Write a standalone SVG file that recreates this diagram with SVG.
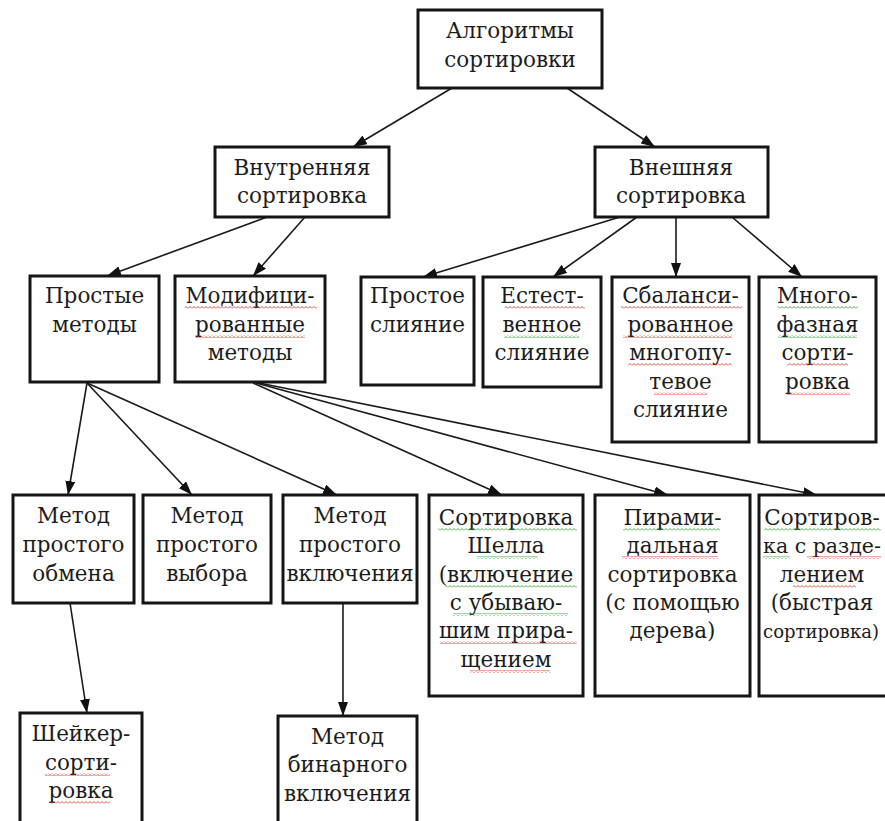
<svg xmlns="http://www.w3.org/2000/svg" width="885" height="821" viewBox="0 0 885 821">
  <style>
    .box { fill: #ffffff; stroke: #151515; stroke-width: 3; }
    .lbl { font-family: "DejaVu Serif", "Liberation Serif", serif; font-size: 21.5px; fill: #1c1c1c; text-anchor: middle; }
    .edge { stroke: #1a1a1a; stroke-width: 1.6; fill: none; marker-end: url(#arrow); }
    .sq-red { fill: url(#waveRed); }
    .sq-green { fill: url(#waveGreen); }
  </style>
  <defs>
    <marker id="arrow" viewBox="0 0 14 10" refX="14" refY="5" markerWidth="14" markerHeight="10" markerUnits="userSpaceOnUse" orient="auto">
      <path d="M0,0 L14,5 L0,10 Z" fill="#111111"/>
    </marker>
    <pattern id="waveRed" width="4" height="3" patternUnits="userSpaceOnUse">
      <path d="M0,2.5 L2,0.5 L4,2.5" stroke="#e0392f" stroke-width="0.9" fill="none"/>
    </pattern>
    <pattern id="waveGreen" width="4" height="3" patternUnits="userSpaceOnUse">
      <path d="M0,2.5 L2,0.5 L4,2.5" stroke="#3aa53a" stroke-width="0.9" fill="none"/>
    </pattern>
  </defs>

  <rect width="885" height="821" fill="#ffffff"/>

  <!-- connectors -->
  <g id="connectors">
    <line class="edge" x1="452" y1="88" x2="353" y2="147"/>
    <line class="edge" x1="567" y1="88" x2="655" y2="147"/>
    <line class="edge" x1="267" y1="217" x2="107" y2="276"/>
    <line class="edge" x1="305" y1="217" x2="253" y2="276"/>
    <line class="edge" x1="620" y1="217" x2="423" y2="277"/>
    <line class="edge" x1="637" y1="217" x2="553" y2="277"/>
    <line class="edge" x1="676" y1="217" x2="676" y2="277"/>
    <line class="edge" x1="732" y1="217" x2="802" y2="277"/>
    <line class="edge" x1="87" y1="383" x2="68" y2="495"/>
    <line class="edge" x1="87" y1="383" x2="192" y2="495"/>
    <line class="edge" x1="87" y1="383" x2="337" y2="495"/>
    <line class="edge" x1="253" y1="383" x2="502" y2="495"/>
    <line class="edge" x1="256" y1="383" x2="668" y2="495"/>
    <line class="edge" x1="259" y1="383" x2="817" y2="495"/>
    <line class="edge" x1="70" y1="603" x2="87" y2="713"/>
    <line class="edge" x1="343" y1="603" x2="343" y2="716"/>
  </g>

  <!-- level 0 -->
  <g id="node-root">
    <rect class="box" x="418" y="10" width="184" height="78"/>
    <text class="lbl" x="510" y="38">Алгоритмы</text>
    <text class="lbl" x="510" y="67">сортировки</text>
  </g>

  <!-- level 1 -->
  <g id="node-internal">
    <rect class="box" x="215" y="147" width="174" height="70"/>
    <text class="lbl" x="302" y="175">Внутренняя</text>
    <text class="lbl" x="302" y="203">сортировка</text>
  </g>
  <g id="node-external">
    <rect class="box" x="595" y="147" width="173" height="70"/>
    <text class="lbl" x="681" y="175">Внешняя</text>
    <text class="lbl" x="681" y="203">сортировка</text>
  </g>

  <!-- level 2 -->
  <g id="node-simple">
    <rect class="box" x="30" y="276" width="129" height="106"/>
    <text class="lbl" x="94.5" y="303">Простые</text>
    <text class="lbl" x="94.5" y="332">методы</text>
  </g>
  <g id="node-modified">
    <rect class="box" x="175" y="276" width="150" height="106"/>
    <text class="lbl" x="250" y="303">Модифици-</text>
    <text class="lbl" x="250" y="332">рованные</text>
    <text class="lbl" x="250" y="360">методы</text>
  </g>
  <g id="node-simple-merge">
    <rect class="box" x="361" y="277" width="113" height="108"/>
    <text class="lbl" x="417.5" y="303">Простое</text>
    <text class="lbl" x="417.5" y="332">слияние</text>
  </g>
  <g id="node-natural-merge">
    <rect class="box" x="483" y="277" width="118" height="110"/>
    <text class="lbl" x="542" y="303">Естест-</text>
    <text class="lbl" x="542" y="332">венное</text>
    <text class="lbl" x="542" y="360">слияние</text>
  </g>
  <g id="node-balanced-merge">
    <rect class="box" x="612" y="277" width="137" height="165"/>
    <text class="lbl" x="680.5" y="303">Сбаланси-</text>
    <text class="lbl" x="680.5" y="332">рованное</text>
    <text class="lbl" x="680.5" y="360">многопу-</text>
    <text class="lbl" x="680.5" y="389">тевое</text>
    <text class="lbl" x="680.5" y="417">слияние</text>
  </g>
  <g id="node-polyphase">
    <rect class="box" x="759" y="277" width="117" height="165"/>
    <text class="lbl" x="817.5" y="303">Много-</text>
    <text class="lbl" x="817.5" y="332">фазная</text>
    <text class="lbl" x="817.5" y="360">сорти-</text>
    <text class="lbl" x="817.5" y="389">ровка</text>
  </g>

  <!-- level 3 -->
  <g id="node-exchange">
    <rect class="box" x="13" y="495" width="121" height="108"/>
    <text class="lbl" x="73.5" y="523">Метод</text>
    <text class="lbl" x="73.5" y="552">простого</text>
    <text class="lbl" x="73.5" y="581">обмена</text>
  </g>
  <g id="node-selection">
    <rect class="box" x="143" y="495" width="128" height="108"/>
    <text class="lbl" x="207" y="523">Метод</text>
    <text class="lbl" x="207" y="552">простого</text>
    <text class="lbl" x="207" y="581">выбора</text>
  </g>
  <g id="node-insertion">
    <rect class="box" x="283" y="495" width="134" height="108"/>
    <text class="lbl" x="350" y="523">Метод</text>
    <text class="lbl" x="350" y="552">простого</text>
    <text class="lbl" x="350" y="581">включения</text>
  </g>
  <g id="node-shell">
    <rect class="box" x="429" y="495" width="154" height="201"/>
    <text class="lbl" x="506" y="525">Сортировка</text>
    <text class="lbl" x="506" y="553">Шелла</text>
    <text class="lbl" x="506" y="582">(включение</text>
    <text class="lbl" x="506" y="610">с убываю-</text>
    <text class="lbl" x="506" y="638">шим прира-</text>
    <text class="lbl" x="506" y="667">щением</text>
  </g>
  <g id="node-heap">
    <rect class="box" x="595" y="495" width="155" height="201"/>
    <text class="lbl" x="672.5" y="525">Пирами-</text>
    <text class="lbl" x="672.5" y="553">дальная</text>
    <text class="lbl" x="672.5" y="582">сортировка</text>
    <text class="lbl" x="672.5" y="610">(с помощью</text>
    <text class="lbl" x="672.5" y="638">дерева)</text>
  </g>
  <g id="node-partition">
    <rect class="box" x="759" y="495" width="140" height="201"/>
    <text class="lbl" x="822" y="525">Сортиров-</text>
    <text class="lbl" x="822" y="553" style="font-size:20.5px">ка с разде-</text>
    <text class="lbl" x="822" y="582">лением</text>
    <text class="lbl" x="822" y="610">(быстрая</text>
    <text class="lbl" x="821" y="638" style="font-size:18px">сортировка)</text>
  </g>

  <!-- level 4 -->
  <g id="node-shaker">
    <rect class="box" x="20" y="713" width="122" height="120"/>
    <text class="lbl" x="81" y="741">Шейкер-</text>
    <text class="lbl" x="81" y="770">сорти-</text>
    <text class="lbl" x="81" y="798">ровка</text>
  </g>
  <g id="node-binary">
    <rect class="box" x="278" y="716" width="139" height="120"/>
    <text class="lbl" x="347.5" y="744">Метод</text>
    <text class="lbl" x="347.5" y="772">бинарного</text>
    <text class="lbl" x="347.5" y="801">включения</text>
  </g>

  <!-- spell-check wavy underlines -->
  <g id="spellmarks">
    <rect class="sq-red" x="185" y="306" width="132" height="3"/>
    <rect class="sq-red" x="195" y="335" width="110" height="3"/>
    <rect class="sq-red" x="505" y="306" width="80" height="3"/>
    <rect class="sq-green" x="504" y="335" width="75" height="3"/>
    <rect class="sq-red" x="621" y="306" width="121" height="3"/>
    <rect class="sq-red" x="623" y="335" width="109" height="3"/>
    <rect class="sq-red" x="628" y="363" width="104" height="3"/>
    <rect class="sq-red" x="654" y="392" width="53" height="3"/>
    <rect class="sq-green" x="778" y="306" width="80" height="3"/>
    <rect class="sq-green" x="778" y="335" width="79" height="3"/>
    <rect class="sq-red" x="787" y="363" width="61" height="3"/>
    <rect class="sq-red" x="787" y="392" width="63" height="3"/>
    <rect class="sq-green" x="438" y="528" width="139" height="3"/>
    <rect class="sq-green" x="477" y="556" width="61" height="3"/>
    <rect class="sq-green" x="445" y="585" width="132" height="3"/>
    <rect class="sq-green" x="453" y="613" width="115" height="3"/>
    <rect class="sq-red" x="440" y="641" width="137" height="3"/>
    <rect class="sq-red" x="470" y="670" width="80" height="3"/>
    <rect class="sq-green" x="623" y="528" width="97" height="3"/>
    <rect class="sq-red" x="622" y="556" width="96" height="3"/>
    <rect class="sq-green" x="764" y="528" width="117" height="3"/>
    <rect class="sq-green" x="763" y="556" width="27" height="3"/>
    <rect class="sq-red" x="807" y="556" width="74" height="3"/>
    <rect class="sq-red" x="793" y="585" width="63" height="3"/>
    <rect class="sq-red" x="45" y="773" width="65" height="3"/>
    <rect class="sq-red" x="50" y="801" width="60" height="3"/>
  </g>
</svg>
